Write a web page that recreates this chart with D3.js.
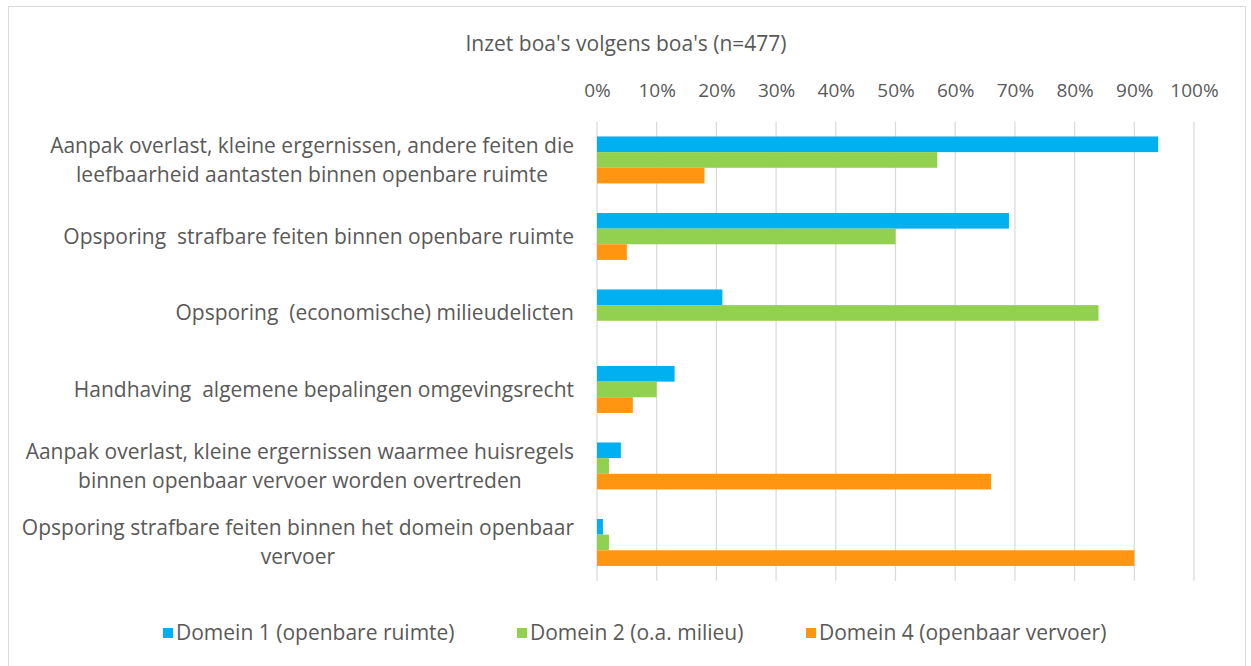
<!DOCTYPE html>
<html>
<head>
<meta charset="utf-8">
<script src="https://cdn.jsdelivr.net/npm/d3@7"></script>
<style>
  body { margin: 0; background: #fff; }
  text { font-family: "Open Sans", sans-serif; fill: #595959; white-space: pre; }
</style>
</head>
<body>
<div id="chart"></div>
<script>
let categories = [
    ["Aanpak overlast, kleine ergernissen, andere feiten die", "leefbaarheid aantasten binnen openbare ruimte"],
    ["Opsporing  strafbare feiten binnen openbare ruimte"],
    ["Opsporing  (economische) milieudelicten"],
    ["Handhaving  algemene bepalingen omgevingsrecht"],
    ["Aanpak overlast, kleine ergernissen waarmee huisregels", "binnen openbaar vervoer worden overtreden"],
    ["Opsporing strafbare feiten binnen het domein openbaar", "vervoer"]
];
let seriesNames = ["Domein 1 (openbare ruimte)", "Domein 2 (o.a. milieu)", "Domein 4 (openbaar vervoer)"];
let domein1 = [94, 69, 21, 13, 4, 1];
let domein2 = [57, 50, 84, 10, 2, 2];
let domein4 = [18, 5, 0, 6, 66, 90];
let ticks = [0, 10, 20, 30, 40, 50, 60, 70, 80, 90, 100];
let colors = ["#00B0F0", "#92D050", "#FF9511"];
let title = "Inzet boa's volgens boa's (n=477)";

let width = 1251, height = 666;
let margin = { "top": 121.7, "bottom": 85.3, "left": 597, "right": 57 };

let svg = d3.select('#chart').append('svg').attr('width', width).attr('height', height);

// outer border
svg.append('rect')
    .attr('x', 8.5).attr('y', 6.5)
    .attr('width', 1237).attr('height', 670)
    .attr('fill', 'none')
    .attr('stroke', '#d9d9d9');

let xScale = d3.scaleLinear()
    .domain([0, 100])
    .range([margin.left, width - margin.right]);
let yScale = d3.scaleBand()
    .domain(d3.range(categories.length))
    .range([margin.top, height - margin.bottom])
    .paddingInner(0.386)
    .paddingOuter(0.193);
let inner = d3.scaleBand()
    .domain(d3.range(3))
    .range([0, yScale.bandwidth()]);

// grid lines
svg.append('g')
    .selectAll('line')
    .data(ticks)
    .enter()
    .append('line')
    .attr('x1', function (d) { return xScale(d); })
    .attr('x2', function (d) { return xScale(d); })
    .attr('y1', margin.top)
    .attr('y2', height - margin.bottom)
    .attr('stroke', '#d9d9d9')
    .attr('stroke-width', 1.2);

// top axis
let xAxis = d3.axisTop(xScale)
    .tickValues(ticks)
    .tickSize(0)
    .tickPadding(0)
    .tickFormat(function (d) { return d + '%'; });
let axisG = svg.append('g')
    .attr('transform', 'translate(0,97)')
    .call(xAxis);
axisG.select('.domain').remove();
axisG.selectAll('text')
    .style('font-size', '19px')
    .style('font-family', '"Open Sans", sans-serif')
    .attr('fill', '#595959');

// bars
let series = [domein1, domein2, domein4];
series.forEach(function (values, s) {
    svg.append('g')
        .selectAll('rect')
        .data(values)
        .enter()
        .append('rect')
        .attr('x', xScale(0))
        .attr('y', function (d, i) { return yScale(i) + inner(s); })
        .attr('width', function (d) { return xScale(d) - xScale(0); })
        .attr('height', inner.bandwidth())
        .attr('fill', colors[s]);
});

// category labels (wrapped lines centred, block right-aligned to the axis)
let lineGap = 29;
let labelRight = 574;
let labels = svg.append('g')
    .selectAll('text')
    .data(categories)
    .enter()
    .append('text')
    .attr('text-anchor', 'middle')
    .style('font-size', '21px')
    .attr('transform', function (d, i) {
        let cy = yScale(i) + yScale.bandwidth() / 2;
        return 'translate(' + labelRight + ',' + (cy - (d.length - 1) * lineGap / 2) + ')';
    });
labels.selectAll('tspan')
    .data(function (d) { return d; })
    .enter()
    .append('tspan')
    .attr('dy', function (d, i) { return i === 0 ? '0.35em' : lineGap; })
    .text(function (d) { return d; });
labels.each(function () {
    let spans = d3.select(this).selectAll('tspan');
    let maxW = d3.max(spans.nodes(), function (n) { return n.getComputedTextLength(); });
    spans.attr('x', -maxW / 2);
});

// title
svg.append('text')
    .attr('x', 626)
    .attr('y', 44)
    .attr('text-anchor', 'middle')
    .attr('dy', '0.35em')
    .style('font-size', '21px')
    .text(title);

// legend
let legendX = [163, 517, 806];
let legend = svg.append('g')
    .selectAll('g')
    .data(seriesNames)
    .enter()
    .append('g')
    .attr('transform', function (d, i) { return 'translate(' + legendX[i] + ',633)'; });
legend.append('rect')
    .attr('x', 0).attr('y', -5)
    .attr('width', 10).attr('height', 10)
    .attr('fill', function (d, i) { return colors[i]; });
legend.append('text')
    .attr('x', 13)
    .attr('dy', '0.35em')
    .style('font-size', '21px')
    .text(function (d) { return d; });
</script>
</body>
</html>
